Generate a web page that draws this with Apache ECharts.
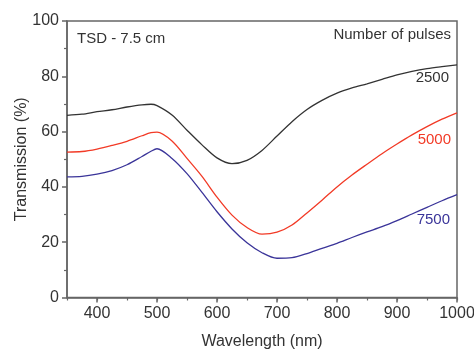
<!DOCTYPE html>
<html><head><meta charset="utf-8">
<script src="https://cdn.jsdelivr.net/npm/echarts@6/dist/echarts.min.js"></script>
<style>html,body{margin:0;padding:0;background:#fff}#c{width:474px;height:349px}</style>
</head><body><div id="c"></div>
<script>
const wavelengths = [350,375,400,425,450,475,490,500,525,550,575,600,625,650,675,700,725,750,775,800,825,850,875,900,925,950,975,1000];
const pulses2500 = [65.9,66.3,67.2,67.9,68.9,69.7,69.9,69.4,66.0,60.5,55.2,50.5,48.4,49.6,53.2,58.4,63.6,68.0,71.3,73.9,75.8,77.3,78.9,80.5,81.8,82.8,83.5,84.1];
const pulses5000 = [52.6,52.8,53.7,55.0,56.5,58.5,59.6,59.8,56.6,50.3,43.8,36.3,29.8,25.3,22.9,23.6,26.2,30.6,35.2,40.0,44.3,48.2,52.0,55.5,58.8,61.8,64.5,66.8];
const pulses7500 = [43.6,43.8,44.6,45.9,48.0,51.0,52.9,53.8,50.3,44.8,38.0,31.0,24.8,19.8,16.2,14.2,14.4,15.9,17.8,19.6,21.7,23.7,25.6,27.8,30.2,32.6,35.0,37.2];
const xMajorTicks = [400,500,600,700,800,900,1000];
const seriesNames = ['2500','5000','7500'];
const colors = ['#333333','#f23a26','#3a3499'];

const toPairs = arr => wavelengths.map((w,i)=>[w,arr[i]]);
const font = 'Arial, "Liberation Sans", sans-serif';
const chart = echarts.init(document.getElementById('c'));
chart.setOption({
  animation:false,
  grid:{left:67,right:17,top:21,bottom:51.5,outerBoundsMode:'none',containLabel:false,show:true,borderColor:'#666',borderWidth:1.5,backgroundColor:'transparent'},
  xAxis:[{
    type:'value',min:350,max:1000,
    name:'Wavelength (nm)',nameLocation:'middle',nameGap:36,nameMoveOverlap:false,
    nameTextStyle:{fontFamily:font,fontSize:16,color:'#333'},
    axisLine:{show:true,lineStyle:{color:'#666',width:1.5}},
    axisTick:{show:true,customValues:xMajorTicks,length:5,lineStyle:{color:'#666',width:1.5}},
    axisLabel:{customValues:xMajorTicks,formatter:v=>String(v),fontFamily:font,fontSize:16,color:'#333',margin:8},
    splitLine:{show:false}
  },{
    type:'value',min:350,max:1000,interval:50,position:'bottom',
    axisLine:{show:false},
    axisTick:{show:true,length:3,lineStyle:{color:'#666',width:1.2}},
    axisLabel:{show:false},splitLine:{show:false}
  }],
  yAxis:{
    type:'value',min:0,max:100,interval:20,
    name:'Transmission (%)',nameLocation:'middle',nameGap:37,nameMoveOverlap:false,
    nameTextStyle:{fontFamily:font,fontSize:16,color:'#333'},
    axisLine:{show:true,lineStyle:{color:'#666',width:1.5}},
    axisTick:{show:true,length:5,lineStyle:{color:'#666',width:1.5}},
    minorTick:{show:true,splitNumber:2,length:3,lineStyle:{color:'#666',width:1.2}},
    axisLabel:{fontFamily:font,fontSize:16,color:'#333',margin:8},
    splitLine:{show:false}
  },
  series:[pulses2500,pulses5000,pulses7500].map((d,i)=>({
    name:seriesNames[i],type:'line',data:toPairs(d),smooth:0.3,showSymbol:false,
    lineStyle:{color:colors[i],width:1.3},xAxisIndex:0
  })),
  graphic:[
    {type:'text',left:77,top:31,style:{text:'TSD - 7.5 cm',font:'15px '+font,fill:'#333'}},
    {type:'text',right:23,top:27,style:{text:'Number of pulses',font:'15px '+font,fill:'#333'}},
    {type:'text',right:25,top:70,style:{text:'2500',font:'15px '+font,fill:'#333'}},
    {type:'text',right:23,top:132,style:{text:'5000',font:'15px '+font,fill:colors[1]}},
    {type:'text',right:24,top:212,style:{text:'7500',font:'15px '+font,fill:colors[2]}}
  ]
});
</script></body></html>
